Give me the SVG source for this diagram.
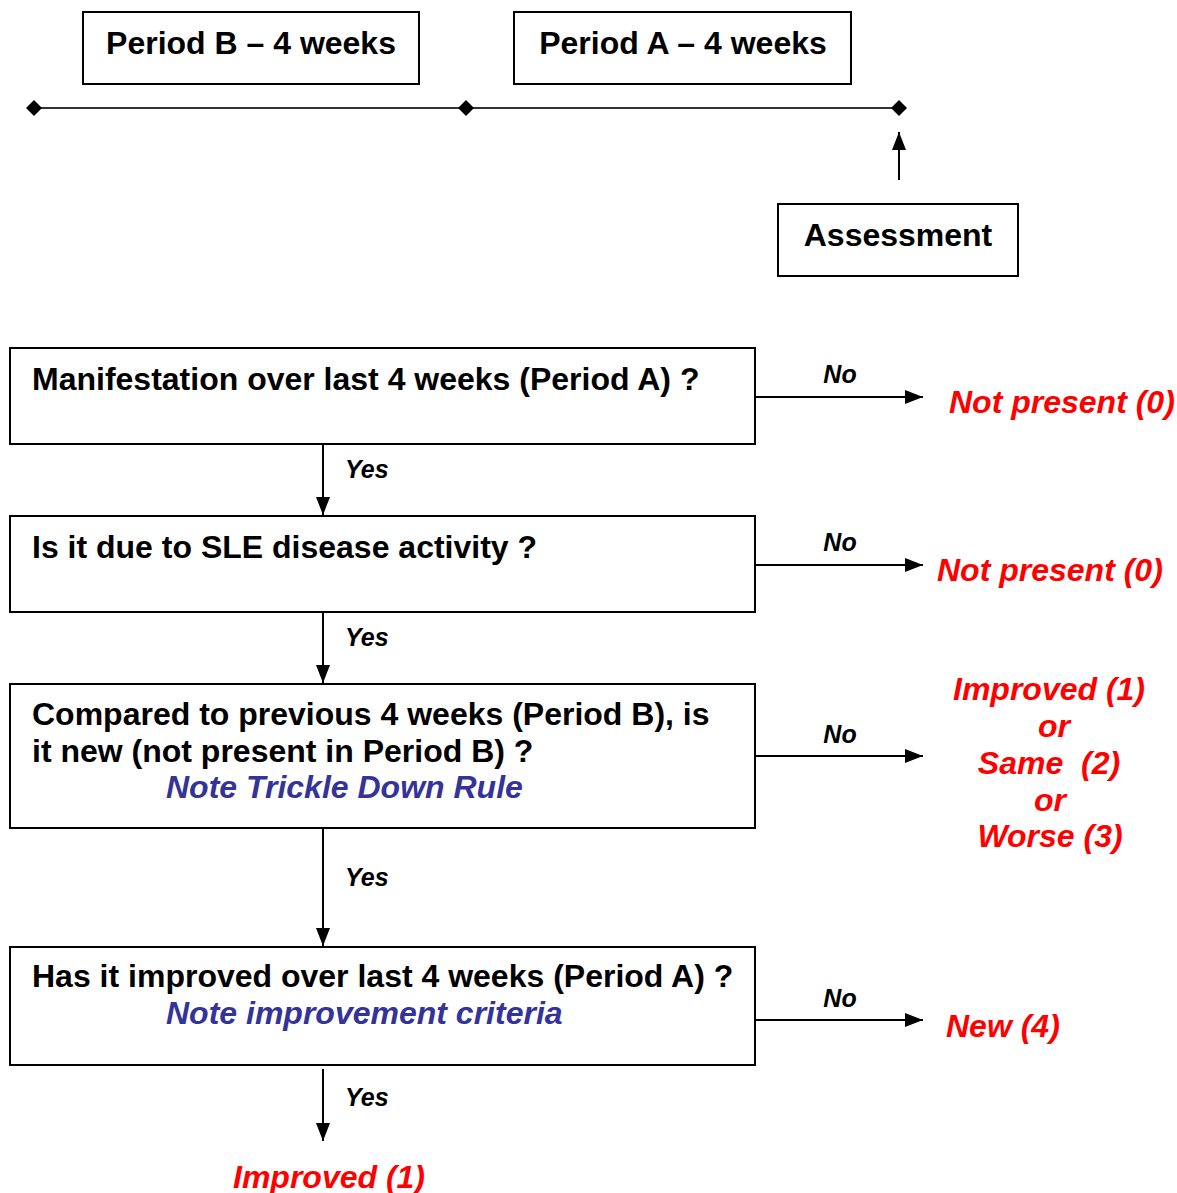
<svg xmlns="http://www.w3.org/2000/svg" width="1177" height="1193" viewBox="0 0 1177 1193">
<defs>
<marker id="ah" viewBox="0 0 18 14" refX="18" refY="7" markerWidth="18" markerHeight="14" markerUnits="userSpaceOnUse" orient="auto">
<path d="M0,0 L18,7 L0,14 Z" fill="#000"/>
</marker>
</defs>
<style>
.box{fill:#fff;stroke:#000;stroke-width:2}
.t{font-family:"Liberation Sans",Arial,sans-serif;font-weight:bold;font-size:32px;fill:#000}
.lbl{font-family:"Liberation Sans",Arial,sans-serif;font-weight:bold;font-style:italic;font-size:25px;fill:#000}
.red{font-family:"Liberation Sans",Arial,sans-serif;font-weight:bold;font-style:italic;font-size:32px;fill:#ff0000}
.blue{font-family:"Liberation Sans",Arial,sans-serif;font-weight:bold;font-style:italic;font-size:32px;fill:#333399}
.c{text-anchor:middle}
.ln{stroke:#000;stroke-width:2;fill:none}
.tl{stroke:#333;stroke-width:2;fill:none}
.dm{fill:#000}
</style>
<rect width="1177" height="1193" fill="#fff"/>
<g id="periodB"><rect class="box" x="83" y="12" width="336" height="72"/><text class="t c" x="251" y="54">Period B – 4 weeks</text></g>
<g id="periodA"><rect class="box" x="514" y="12" width="337" height="72"/><text class="t c" x="683" y="54">Period A – 4 weeks</text></g>
<g id="timeline">
<line class="tl" x1="34" y1="108" x2="899" y2="108"/>
<path class="dm" d="M34,100 L42,108 L34,116 L26,108 Z"/>
<path class="dm" d="M466,100 L474,108 L466,116 L458,108 Z"/>
<path class="dm" d="M899,100 L907,108 L899,116 L891,108 Z"/>
</g>
<g id="assessment"><rect class="box" x="778" y="204" width="240" height="72"/><text class="t c" x="898" y="246">Assessment</text></g>
<g id="q1"><rect class="box" x="10" y="348" width="745" height="96"/><text class="t" x="32" y="390">Manifestation over last 4 weeks (Period A) ?</text></g>
<g id="q2"><rect class="box" x="10" y="516" width="745" height="96"/><text class="t" x="32" y="558">Is it due to SLE disease activity ?</text></g>
<g id="q3"><rect class="box" x="10" y="684" width="745" height="144"/><text class="t" x="32" y="725">Compared to previous 4 weeks (Period B), is</text><text class="t" x="32" y="762">it new (not present in Period B) ?</text><text class="blue" x="166" y="798">Note Trickle Down Rule</text></g>
<g id="q4"><rect class="box" x="10" y="947" width="745" height="118"/><text class="t" x="32" y="987">Has it improved over last 4 weeks (Period A) ?</text><text class="blue" x="166" y="1024">Note improvement criteria</text></g>
<g id="r1"><text class="red" x="949" y="413">Not present (0)</text></g>
<g id="r2"><text class="red" x="937" y="581">Not present (0)</text></g>
<g id="r3"><text class="red c" x="1049" y="700">Improved (1)</text><text class="red c" x="1054" y="737">or</text><text class="red c" x="1049" y="774" xml:space="preserve">Same  (2)</text><text class="red c" x="1050" y="811">or</text><text class="red c" x="1050" y="847">Worse (3)</text></g>
<g id="r4"><text class="red" x="946" y="1037">New (4)</text></g>
<g id="r5"><text class="red c" x="329" y="1188">Improved (1)</text></g>
<g id="connectors">
<line class="ln" x1="899" y1="180" x2="899" y2="132" marker-end="url(#ah)"/>
<line class="ln" x1="755" y1="397" x2="923" y2="397" marker-end="url(#ah)"/>
<line class="ln" x1="755" y1="565" x2="923" y2="565" marker-end="url(#ah)"/>
<line class="ln" x1="755" y1="756" x2="923" y2="756" marker-end="url(#ah)"/>
<line class="ln" x1="755" y1="1020" x2="923" y2="1020" marker-end="url(#ah)"/>
<line class="ln" x1="323" y1="444" x2="323" y2="515" marker-end="url(#ah)"/>
<line class="ln" x1="323" y1="612" x2="323" y2="683" marker-end="url(#ah)"/>
<line class="ln" x1="323" y1="828" x2="323" y2="946" marker-end="url(#ah)"/>
<line class="ln" x1="323" y1="1069" x2="323" y2="1141" marker-end="url(#ah)"/>
<text class="lbl" x="840" y="383" text-anchor="middle">No</text>
<text class="lbl" x="840" y="551" text-anchor="middle">No</text>
<text class="lbl" x="840" y="743" text-anchor="middle">No</text>
<text class="lbl" x="840" y="1007" text-anchor="middle">No</text>
<text class="lbl" x="345" y="478">Yes</text>
<text class="lbl" x="345" y="646">Yes</text>
<text class="lbl" x="345" y="886">Yes</text>
<text class="lbl" x="345" y="1106">Yes</text>
</g>
</svg>
